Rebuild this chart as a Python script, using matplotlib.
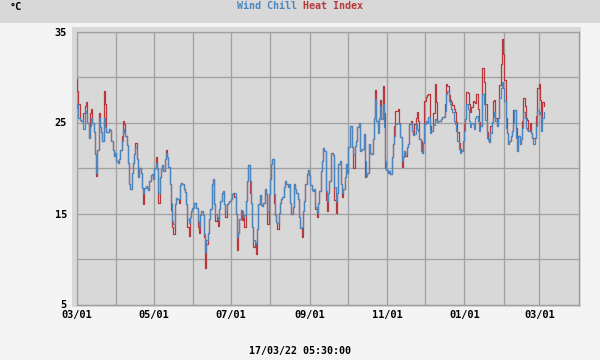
import numpy as np
import matplotlib
matplotlib.use('Agg')
import matplotlib.pyplot as plt
import matplotlib.dates as mdates
from matplotlib.patches import Rectangle


# daily readings, 2021-03-01 onwards (deg C)
days = np.arange('2021-03-01', '2022-03-06', dtype='datetime64[D]')

wind_chill = [
    26.6, 27.0, 25.5, 25.3, 25.2, 25.2, 24.3, 26.3, 26.0, 25.0,
    23.3, 24.6, 25.5, 25.0, 24.0, 21.5, 19.5, 22.0, 25.5, 24.5,
    24.0, 23.0, 25.5, 24.5, 24.0, 24.0, 24.3, 24.2, 23.0, 22.0,
    21.3, 21.7, 20.8, 20.5, 21.0, 22.0, 23.0, 24.3, 24.0, 23.5,
    22.5, 20.5, 18.2, 17.7, 19.5, 20.5, 21.5, 22.3, 21.0, 19.0,
    20.0, 19.5, 17.8, 17.2, 17.8, 18.0, 17.8, 17.6, 18.6, 19.2,
    19.3, 18.8, 20.0, 20.6, 19.9, 17.3, 19.0, 19.9, 20.3, 19.7,
    21.0, 21.7, 21.2, 20.1, 18.2, 16.2, 14.2, 13.8, 16.0, 16.7,
    16.6, 16.6, 18.1, 18.4, 18.2, 17.7, 17.4, 16.0, 14.4, 14.0,
    14.6, 15.3, 15.6, 16.2, 16.2, 15.6, 14.2, 13.6, 14.8, 15.3,
    14.8, 12.7, 10.8, 12.1, 12.9, 14.4, 15.5, 18.2, 18.8, 16.0,
    14.9, 14.6, 14.3, 15.5, 16.4, 17.3, 17.5, 16.0, 15.3, 16.0,
    16.2, 16.4, 16.6, 17.1, 17.3, 17.2, 14.9, 12.4, 12.9, 14.4,
    15.4, 15.3, 14.6, 14.8, 16.4, 18.6, 20.3, 18.6, 16.2, 13.5,
    12.1, 11.7, 11.9, 13.3, 16.0, 17.0, 15.9, 15.8, 16.2, 17.7,
    17.1, 15.3, 17.1, 18.8, 20.4, 21.0, 17.1, 14.8, 14.1, 14.0,
    15.1, 16.1, 16.6, 16.8, 17.9, 18.6, 18.2, 17.9, 18.2, 16.2,
    14.9, 15.7, 18.2, 17.7, 17.2, 16.6, 14.6, 13.4, 13.5, 15.3,
    16.4, 18.2, 19.3, 19.8, 19.2, 18.1, 17.6, 17.5, 17.7, 15.7,
    15.1, 16.2, 17.5, 19.7, 20.8, 22.2, 21.9, 17.5, 16.4, 17.2,
    18.6, 21.7, 21.7, 21.4, 17.9, 16.4, 17.2, 20.4, 20.8, 18.2,
    17.2, 17.7, 19.0, 20.4, 19.4, 22.3, 24.6, 24.6, 22.3, 21.5,
    22.4, 23.0, 24.5, 24.9, 21.9, 22.0, 22.1, 23.7, 20.8, 19.1,
    19.5, 22.6, 21.7, 21.5, 23.2, 25.5, 27.6, 25.2, 23.9, 25.5,
    26.8, 25.4, 27.0, 24.5, 20.8, 19.8, 19.5, 19.7, 19.3, 21.2,
    22.6, 23.5, 24.8, 24.9, 25.0, 24.8, 23.4, 20.8, 21.2, 21.9,
    21.7, 22.3, 22.6, 24.8, 25.0, 24.1, 23.6, 23.7, 24.8, 24.3,
    24.1, 23.2, 21.9, 21.7, 22.8, 24.8, 25.2, 25.0, 25.6, 23.8,
    24.1, 24.1, 24.7, 25.4, 25.3, 25.1, 25.2, 25.2, 25.4, 25.6,
    25.6, 26.3, 28.1, 28.5, 27.4, 27.0, 26.5, 26.1, 25.2, 24.8,
    24.1, 23.0, 22.1, 21.7, 21.9, 23.0, 24.1, 25.4, 27.0, 26.5,
    25.2, 24.5, 25.0, 24.8, 24.3, 25.5, 25.7, 25.2, 24.1, 24.6,
    28.1, 28.1, 27.0, 25.3, 23.3, 23.1, 22.9, 23.9, 25.1, 25.6,
    26.1, 25.2, 24.6, 25.5, 27.7, 28.8, 29.4, 28.8, 27.4, 24.4,
    23.9, 22.6, 23.0, 23.5, 24.1, 25.0, 26.4, 23.3, 21.9, 23.5,
    22.6, 23.2, 24.4, 26.1, 25.5, 24.4, 24.2, 24.1, 24.1, 23.9,
    23.3, 22.6, 23.3, 24.6, 26.4, 25.9, 26.1, 24.1, 25.5, 26.1,
]

heat_index = [
    29.8, 28.5, 27.0, 25.3, 25.2, 25.2, 26.0, 26.8, 27.3, 25.0,
    23.3, 26.0, 26.5, 25.0, 24.0, 21.5, 19.1, 22.0, 26.0, 24.5,
    24.0, 23.0, 28.5, 27.0, 24.0, 24.0, 24.3, 24.2, 23.0, 22.0,
    21.3, 21.7, 20.8, 20.5, 21.0, 22.0, 23.5, 25.2, 24.8, 23.5,
    22.5, 20.5, 18.2, 17.7, 19.5, 20.5, 21.5, 22.8, 21.0, 19.0,
    20.0, 19.5, 17.8, 16.0, 17.8, 18.0, 17.8, 17.6, 18.6, 19.2,
    19.3, 18.8, 20.0, 21.2, 19.9, 16.2, 19.0, 19.9, 20.3, 19.7,
    21.0, 22.0, 21.2, 20.1, 18.2, 15.4, 13.5, 12.8, 16.0, 16.7,
    16.6, 16.2, 18.1, 18.4, 18.2, 17.7, 17.4, 16.0, 13.5, 12.5,
    14.6, 15.3, 15.6, 16.2, 16.2, 15.6, 13.5, 12.9, 14.8, 15.3,
    14.8, 12.4, 9.0, 11.6, 12.9, 14.4, 15.5, 18.2, 18.8, 16.0,
    14.2, 14.6, 13.6, 15.5, 16.4, 17.3, 17.5, 16.0, 14.6, 16.0,
    16.2, 16.4, 16.6, 17.1, 17.3, 16.8, 14.9, 11.0, 12.9, 14.4,
    15.4, 14.3, 14.6, 13.5, 16.4, 18.6, 20.3, 17.2, 16.2, 13.5,
    11.3, 11.7, 10.5, 13.3, 16.0, 17.0, 15.9, 15.8, 16.2, 17.7,
    17.1, 13.8, 17.1, 18.8, 20.4, 21.0, 16.2, 14.8, 14.1, 13.3,
    15.1, 16.1, 16.6, 16.8, 17.9, 18.6, 18.2, 17.9, 18.2, 16.2,
    14.9, 15.7, 18.2, 17.7, 17.2, 16.6, 14.6, 13.4, 12.4, 15.3,
    16.4, 18.2, 19.3, 19.8, 19.2, 18.1, 17.6, 17.5, 17.7, 15.5,
    14.6, 16.2, 17.5, 19.7, 20.8, 22.2, 21.9, 16.5, 15.3, 17.2,
    18.6, 21.7, 21.7, 21.4, 16.5, 15.1, 17.2, 20.4, 20.8, 18.2,
    16.8, 17.7, 19.0, 20.4, 19.4, 22.3, 24.6, 24.6, 22.3, 20.0,
    22.4, 23.0, 24.5, 24.9, 21.9, 22.0, 22.1, 23.7, 19.0, 19.1,
    19.5, 22.6, 21.7, 21.5, 23.2, 25.5, 28.6, 25.2, 24.5, 25.5,
    27.5, 25.4, 29.0, 26.0, 20.0, 19.8, 19.5, 19.7, 19.3, 21.2,
    22.6, 24.6, 26.3, 26.3, 26.5, 25.0, 23.4, 20.1, 21.2, 21.9,
    21.3, 22.3, 22.6, 24.8, 25.2, 24.1, 23.6, 24.8, 25.5, 26.1,
    25.2, 23.2, 23.0, 21.7, 22.8, 27.4, 27.8, 28.0, 28.1, 24.6,
    24.1, 24.1, 26.0, 29.2, 27.2, 25.1, 25.2, 25.2, 25.4, 25.6,
    25.6, 27.0, 29.2, 29.0, 28.0, 27.5, 27.2, 26.9, 26.5, 26.1,
    25.1, 24.0, 22.8, 22.1, 21.9, 23.0, 24.8, 25.4, 28.3, 28.2,
    27.0, 26.1, 26.7, 27.4, 27.2, 27.1, 28.1, 26.5, 25.1, 24.6,
    31.0, 31.0, 29.5, 27.0, 24.0, 23.2, 22.9, 24.6, 25.1, 27.4,
    27.5, 25.5, 24.6, 25.5, 29.1, 31.4, 34.2, 32.5, 29.7, 25.5,
    23.9, 22.6, 23.0, 23.5, 24.1, 26.4, 26.4, 24.4, 21.9, 23.5,
    22.6, 23.2, 25.2, 27.7, 26.8, 25.5, 25.3, 24.1, 25.0, 23.9,
    23.3, 23.3, 23.3, 25.7, 28.8, 29.2, 27.5, 25.1, 27.2, 26.8,
]

y_ticks = [5, 15, 25, 35]
stamp = '17/03/22 05:30:00'

blue = '#4a86c0'
red = '#b8383c'
panel = '#d8d8d8'
grid = '#a0a0a0'
mono = 'DejaVu Sans Mono'


fig = plt.figure(figsize=(6, 3.6), dpi=100, facecolor='#f4f4f4')

# header band and plot frame, kept behind the axes
fig.patches.append(Rectangle((0, 1 - 23 / 360), 1, 23 / 360, transform=fig.transFigure,
                             facecolor=panel, edgecolor='none', zorder=-2))
fig.patches.append(Rectangle((72 / 600, 1 - 307 / 360), 509 / 600, 280 / 360,
                             transform=fig.transFigure, facecolor=panel,
                             edgecolor='none', zorder=-2))

ax = fig.add_axes([76.5 / 600, 1 - 304.5 / 360, 502 / 600, 273 / 360])
ax.set_facecolor(panel)

ax.plot(days, heat_index, color=red, lw=0.9, drawstyle='steps-mid', zorder=3)
ax.plot(days, wind_chill, color=blue, lw=0.9, drawstyle='steps-mid', zorder=4)

ax.set_xlim(np.datetime64('2021-03-01'), np.datetime64('2022-04-01'))
ax.set_ylim(5, 35)

ax.xaxis.set_major_locator(mdates.MonthLocator(bymonth=[1, 3, 5, 7, 9, 11]))
ax.xaxis.set_major_formatter(mdates.DateFormatter('%m/%d'))
ax.xaxis.set_minor_locator(mdates.MonthLocator())
ax.set_yticks(y_ticks)
ax.set_yticks(range(5, 36, 5), minor=True)

ax.grid(True, which='both', color=grid, lw=0.9)
ax.set_axisbelow(True)
for s in ax.spines.values():
    s.set_color(grid)
    s.set_linewidth(0.9)

ax.tick_params(which='both', length=0)
ax.tick_params(axis='x', pad=4)
ax.tick_params(axis='y', pad=7)
for lab in ax.get_xticklabels() + ax.get_yticklabels():
    lab.set_fontfamily(mono)
    lab.set_fontweight('bold')
    lab.set_fontsize(7.4)

fig.text(10 / 600, 1 - 7 / 360, '°C', family=mono, fontweight='bold', fontsize=7.4,
         ha='left', va='center')
fig.text(297 / 600, 1 - 6 / 360, 'Wind Chill', family=mono, fontweight='bold',
         fontsize=7.2, color=blue, ha='right', va='center')
fig.text(303 / 600, 1 - 6 / 360, 'Heat Index', family=mono, fontweight='bold',
         fontsize=7.2, color=red, ha='left', va='center')
fig.text(0.5, 1 - 351 / 360, stamp, family=mono, fontweight='bold', fontsize=7.2,
         ha='center', va='center')

fig.savefig('out.png', dpi=100, facecolor=fig.get_facecolor())
